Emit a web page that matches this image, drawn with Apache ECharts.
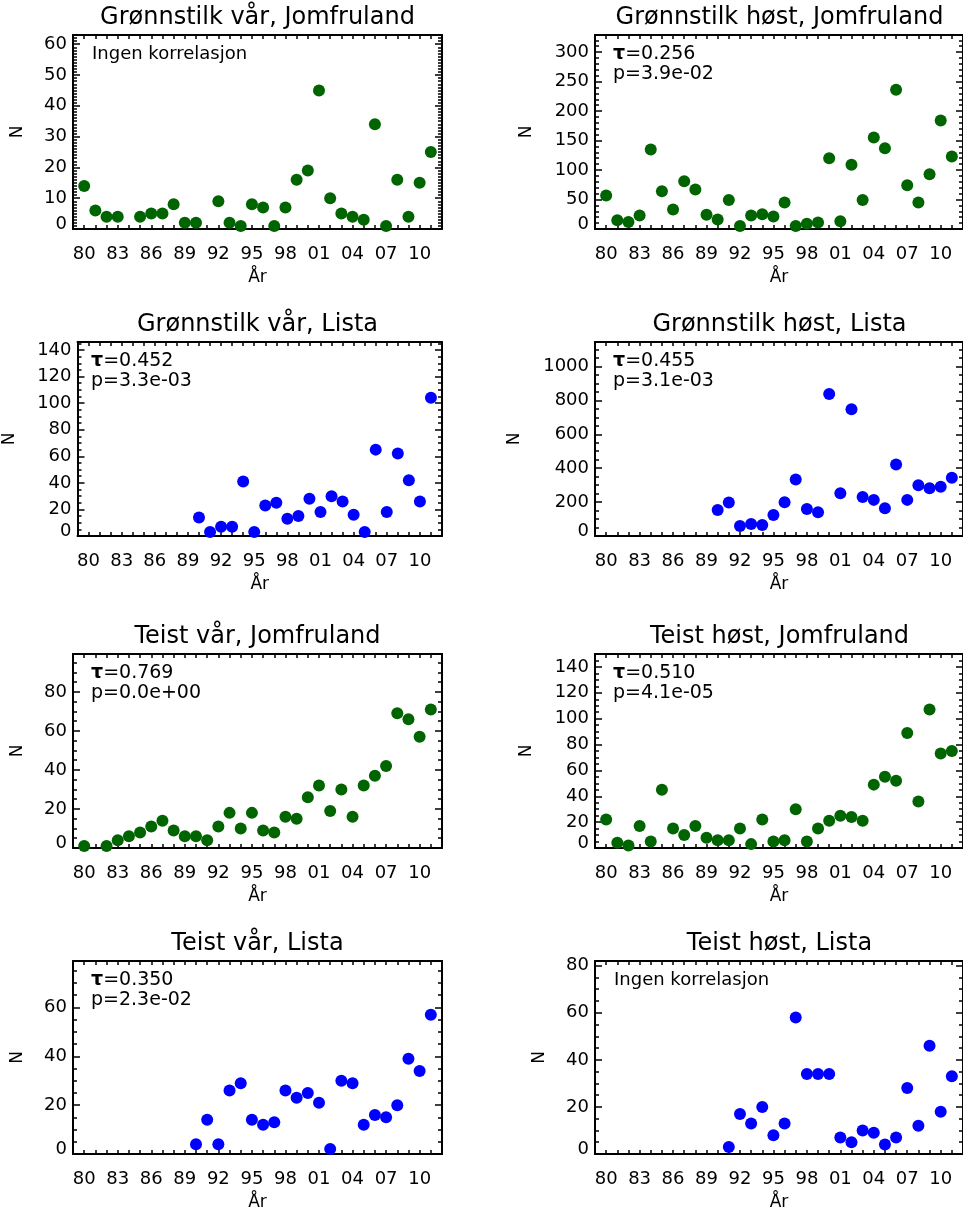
<!DOCTYPE html>
<html>
<head>
<meta charset="utf-8">
<script src="https://cdn.jsdelivr.net/npm/echarts@6/dist/echarts.min.js"></script>
<style>
  html, body { margin: 0; padding: 0; background: #fff; }
  #chart { width: 963px; height: 1212px; }
</style>
</head>
<body>
<div id="chart"></div>
<script>
// years on the x axis and the tick labels (80, 83, ... 10)
const years = [1980, 1981, 1982, 1983, 1984, 1985, 1986, 1987, 1988, 1989,
  1990, 1991, 1992, 1993, 1994, 1995, 1996, 1997, 1998, 1999,
  2000, 2001, 2002, 2003, 2004, 2005, 2006, 2007, 2008, 2009, 2010, 2011];
const xLabelYears = [1980, 1983, 1986, 1989, 1992, 1995, 1998, 2001, 2004, 2007, 2010];

// counts per year, null = no value that year
const gronnVarJomfruland = [14, 6, 4, 4, null, 4, 5, 5, 8, 2,
  2, null, 9, 2, 1, 8, 7, 1, 7, 16,
  19, 45, 10, 5, 4, 3, 34, 1, 16, 4, 15, 25];
const gronnHostJomfruland = [57, 15, 12, 23, 135, 64, 33, 81, 67, 24,
  16, 49, 5, 23, 25, 21, 45, 5, 9, 11,
  120, 13, 109, 49, 155, 137, 236, 74, 45, 93, 184, 123];
const gronnVarLista = [null, null, null, null, null, null, null, null, null, null,
  14, 3, 7, 7, 41, 3, 23, 25, 13, 15,
  28, 18, 30, 26, 16, 3, 65, 18, 62, 42, 26, 104];
const gronnHostLista = [null, null, null, null, null, null, null, null, null, null,
  153, 197, 59, 71, 65, 124, 199, 333, 159, 140,
  837, 252, 748, 230, 213, 163, 421, 213, 299, 281, 291, 343];
const teistVarJomfruland = [1, null, 1, 4, 6, 8, 11, 14, 9, 6,
  6, 4, 11, 18, 10, 18, 9, 8, 16, 15,
  26, 32, 19, 30, 16, 32, 37, 42, 69, 66, 57, 71];
const teistHostJomfruland = [22, 4, 2, 17, 5, 45, 15, 10, 17, 8,
  6, 6, 15, 3, 22, 5, 6, 30, 5, 15,
  21, 25, 24, 21, 49, 55, 52, 89, 36, 107, 73, 75];
const teistVarLista = [null, null, null, null, null, null, null, null, null, null,
  4, 14, 4, 26, 29, 14, 12, 13, 26, 23,
  25, 21, 2, 30, 29, 12, 16, 15, 20, 39, 34, 57];
const teistHostLista = [null, null, null, null, null, null, null, null, null, null,
  null, 3, 17, 13, 20, 8, 13, 58, 34, 34,
  34, 7, 5, 10, 9, 4, 7, 28, 12, 46, 18, 33];

// y tick labels per panel
const ticks10to60 = [0, 10, 20, 30, 40, 50, 60];
const ticks50to300 = [0, 50, 100, 150, 200, 250, 300];
const ticks20to140 = [0, 20, 40, 60, 80, 100, 120, 140];
const ticks200to1000 = [0, 200, 400, 600, 800, 1000];
const ticks20to80 = [0, 20, 40, 60, 80];
const ticks20to60 = [0, 20, 40, 60];

const green = '#006400';
const blue = '#0000ff';
const FONT = 'DejaVu Sans';

const panels = [
  { title: 'Grønnstilk vår, Jomfruland', vals: gronnVarJomfruland, color: green, yMax: 63, yTicks: ticks10to60, minor: 1, tau: null, p: null },
  { title: 'Grønnstilk høst, Jomfruland', vals: gronnHostJomfruland, color: green, yMax: 329, yTicks: ticks50to300, minor: 10, tau: '0.256', p: '3.9e-02' },
  { title: 'Grønnstilk vår, Lista', vals: gronnVarLista, color: blue, yMax: 146, yTicks: ticks20to140, minor: 5, tau: '0.452', p: '3.3e-03' },
  { title: 'Grønnstilk høst, Lista', vals: gronnHostLista, color: blue, yMax: 1144, yTicks: ticks200to1000, minor: 50, tau: '0.455', p: '3.1e-03' },
  { title: 'Teist vår, Jomfruland', vals: teistVarJomfruland, color: green, yMax: 99.4, yTicks: ticks20to80, minor: 5, tau: '0.769', p: '0.0e+00' },
  { title: 'Teist høst, Jomfruland', vals: teistHostJomfruland, color: green, yMax: 150, yTicks: ticks20to140, minor: 5, tau: '0.510', p: '4.1e-05' },
  { title: 'Teist vår, Lista', vals: teistVarLista, color: blue, yMax: 79, yTicks: ticks20to60, minor: 5, tau: '0.350', p: '2.3e-02' },
  { title: 'Teist høst, Lista', vals: teistHostLista, color: blue, yMax: 82, yTicks: ticks20to80, minor: 5, tau: null, p: null }
];

const lefts = [73, 595];
const tops = [35, 342, 654, 961];
const W = 369, H = 194;

const lineStyle = { color: '#000', width: 2 };
const tickStyle = { color: '#000', width: 1.5 };

let grid = [], xAxis = [], yAxis = [], series = [], graphic = [];

panels.forEach((pn, i) => {
  const left = lefts[i % 2], top = tops[Math.floor(i / 2)];
  grid.push({ left: left, top: top, width: W, height: H });

  const minors = [];
  for (let v = 0; v <= pn.yMax; v += pn.minor) minors.push(v);
  const labLen = String(pn.yTicks[pn.yTicks.length - 1]).length;

  const xBase = {
    gridIndex: i, type: 'value', min: 1979, max: 2012,
    splitLine: { show: false },
    axisLine: { onZero: false, lineStyle: lineStyle },
    axisTick: { inside: true, length: 4, customValues: years, lineStyle: tickStyle }
  };
  xAxis.push(Object.assign({}, xBase, {
    position: 'bottom',
    axisLabel: {
      customValues: xLabelYears,
      formatter: v => String(v % 100).padStart(2, '0'),
      fontFamily: FONT, fontSize: 18, color: '#000', margin: 16
    },
    name: 'År', nameLocation: 'middle', nameGap: 40,
    nameTextStyle: { fontFamily: FONT, fontSize: 17, color: '#000' }
  }));
  xAxis.push(Object.assign({}, xBase, { position: 'top', axisLabel: { show: false } }));

  const yBase = { gridIndex: i, type: 'value', min: 0, max: pn.yMax, splitLine: { show: false } };
  ['left', 'right'].forEach(side => {
    const major = Object.assign({}, yBase, {
      position: side,
      axisLine: { onZero: false, lineStyle: lineStyle },
      axisTick: { inside: true, length: 7, customValues: pn.yTicks, lineStyle: tickStyle },
      axisLabel: { show: false }
    });
    if (side === 'left') {
      major.axisLabel = {
        customValues: pn.yTicks,
        formatter: v => v === 0 ? '{lo|0}' : String(v),
        rich: { lo: { fontFamily: FONT, fontSize: 18, color: '#000', padding: [0, 0, 10, 0] } },
        fontFamily: FONT, fontSize: 18, color: '#000', margin: 6
      };
      major.name = 'N';
      major.nameLocation = 'middle';
      major.nameGap = 22 + 12.5 * labLen;
      major.nameTextStyle = { fontFamily: FONT, fontSize: 17, color: '#000' };
    }
    yAxis.push(major);
    yAxis.push(Object.assign({}, yBase, {
      position: side,
      axisLine: { show: false },
      axisTick: { inside: true, length: 4, customValues: minors, lineStyle: tickStyle },
      axisLabel: { show: false }
    }));
  });

  const pts = [];
  years.forEach((yr, k) => { if (pn.vals[k] != null) pts.push([yr, pn.vals[k]]); });
  series.push({
    type: 'scatter', xAxisIndex: 2 * i, yAxisIndex: 4 * i,
    data: pts, symbol: 'circle', symbolSize: 12,
    itemStyle: { color: pn.color, opacity: 1 }
  });

  graphic.push({
    type: 'text', x: left + W / 2, y: top - 17,
    style: { text: pn.title, fontFamily: FONT, fontSize: 24, fill: '#000', align: 'center', verticalAlign: 'middle' }
  });
  if (pn.tau) {
    graphic.push({
      type: 'text', x: left + 18, y: top + 9,
      style: {
        text: '{t|τ}=' + pn.tau + '\np=' + pn.p,
        fontFamily: FONT, fontSize: 19, lineHeight: 20, fill: '#000',
        rich: { t: { fontFamily: FONT, fontSize: 19, lineHeight: 20, fontWeight: 'bold', fill: '#000' } }
      }
    });
  } else {
    graphic.push({
      type: 'text', x: left + 19, y: top + 10,
      style: { text: 'Ingen korrelasjon', fontFamily: FONT, fontSize: 18, fill: '#000' }
    });
  }
});

const chart = echarts.init(document.getElementById('chart'));
chart.setOption({
  animation: false,
  backgroundColor: '#fff',
  grid: grid,
  xAxis: xAxis,
  yAxis: yAxis,
  series: series,
  graphic: graphic
});
</script>
</body>
</html>
